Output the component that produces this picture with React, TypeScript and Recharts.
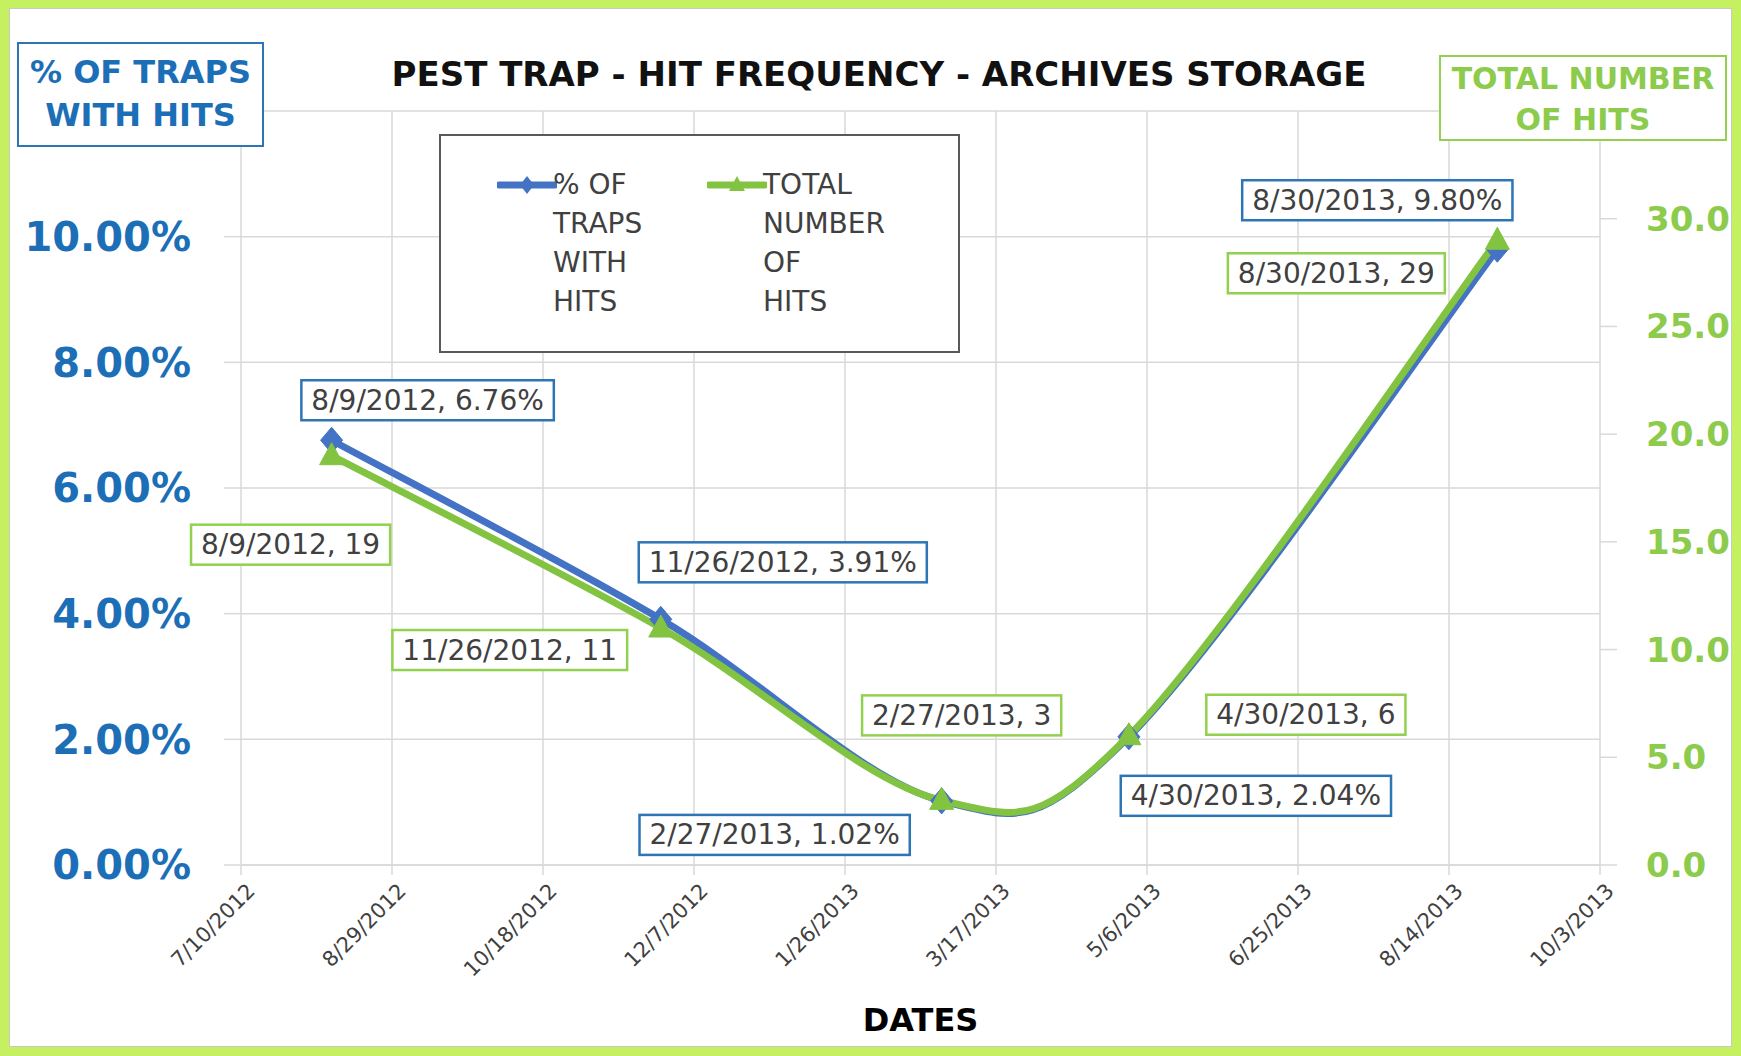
import React from 'react';
import { LineChart, Line, XAxis, YAxis, CartesianGrid, LabelList, Legend } from 'recharts';

// ---------- data ----------
const dates = ['8/9/2012', '11/26/2012', '2/27/2013', '4/30/2013', '8/30/2013'];
const pctTraps = [6.76, 3.91, 1.02, 2.04, 9.8];
const totalHits = [19, 11, 3, 6, 29];
const xTickLabels = ['7/10/2012', '8/29/2012', '10/18/2012', '12/7/2012', '1/26/2013', '3/17/2013', '5/6/2013', '6/25/2013', '8/14/2013', '10/3/2013'];
const leftTicks = [0, 2, 4, 6, 8, 10, 12];
const rightTicks = [0, 5, 10, 15, 20, 25, 30];

// label box offsets (center relative to the point), styling only
const blueLabelOffsets = [[96, -40], [122, -57], [-167, 34], [127, 59], [-120, -49]];
const greenLabelOffsets = [[-41, 89], [-151, 22], [20, -85], [177, -21], [-161, 33]];

const FONT = "'DejaVu Sans', sans-serif";
const BLUE = '#4472C4';
const GREEN = '#82C341';
const BLUE_TEXT = '#1C6FB7';
const GREEN_TEXT = '#8CCB4C';
const GRID = '#d9d9d9';
const LABEL_TEXT = '#404040';

const toDay = (s: string) => {
  const [m, d, y] = s.split('/').map(Number);
  return Date.UTC(y, m - 1, d) / 86400000;
};
const fromDay = (n: number) => {
  const dt = new Date(n * 86400000);
  return `${dt.getUTCMonth() + 1}/${dt.getUTCDate()}/${dt.getUTCFullYear()}`;
};

const data = dates.map((d, i) => ({ day: toDay(d), date: d, pct: pctTraps[i], hits: totalHits[i] }));
const xTicks = xTickLabels.map(toDay);

// Excel-like smooth line (Catmull-Rom through points)
const smoothCurve: any = (context: any) => {
  let pts: number[][] = [];
  return {
    areaStart() {},
    areaEnd() {},
    lineStart() { pts = []; },
    point(x: number, y: number) { pts.push([+x, +y]); },
    lineEnd() {
      if (!pts.length) return;
      context.moveTo(pts[0][0], pts[0][1]);
      for (let i = 0; i < pts.length - 1; i++) {
        const p0 = pts[i - 1] || pts[i];
        const p1 = pts[i];
        const p2 = pts[i + 1];
        const p3 = pts[i + 2] || p2;
        context.bezierCurveTo(
          p1[0] + (p2[0] - p0[0]) / 6, p1[1] + (p2[1] - p0[1]) / 6,
          p2[0] - (p3[0] - p1[0]) / 6, p2[1] - (p3[1] - p1[1]) / 6,
          p2[0], p2[1]
        );
      }
    },
  };
};

const charW: Record<string, number> = { '/': 0.337, ',': 0.318, ' ': 0.318, '.': 0.318, '%': 0.95 };
const textWidth = (s: string, fs: number) => s.split('').reduce((a, c) => a + (charW[c] ?? 0.636), 0) * fs;

const LABEL_FS = 28;
const makeLabel = (color: string, offsets: number[][], fmt: (i: number) => string) => (p: any) => {
  const i = p.index;
  const px = p.x ?? p.viewBox?.x;
  const py = p.y ?? p.viewBox?.y;
  if (px == null || py == null || i == null) return null;
  const txt = fmt(i);
  const w = textWidth(txt, LABEL_FS) + 20;
  const h = 40;
  const cx = px + offsets[i][0];
  const cy = py + offsets[i][1];
  return (
    <g key={`lbl-${color}-${i}`}>
      <rect x={cx - w / 2} y={cy - h / 2} width={w} height={h} fill="#fff" stroke={color} strokeWidth={2.5} />
      <text x={cx} y={cy} textAnchor="middle" dominantBaseline="central" fontFamily={FONT} fontSize={LABEL_FS} fill={LABEL_TEXT}>
        {txt}
      </text>
    </g>
  );
};

const Diamond = (p: any) => {
  const { cx, cy } = p;
  if (cx == null || cy == null) return null;
  return <polygon key={`d-${p.index}`} points={`${cx},${cy - 13} ${cx + 11},${cy} ${cx},${cy + 13} ${cx - 11},${cy}`} fill={BLUE} stroke={BLUE} strokeWidth={1} />;
};
const Triangle = (p: any) => {
  const { cx, cy } = p;
  if (cx == null || cy == null) return null;
  return <polygon key={`t-${p.index}`} points={`${cx},${cy - 13} ${cx + 12},${cy + 9} ${cx - 12},${cy + 9}`} fill={GREEN} stroke={GREEN} strokeWidth={1} />;
};

const XTick = (p: any) => {
  const { x, y, payload } = p;
  return (
    <g transform={`translate(${x + 10},${y + 10})`}>
      <text textAnchor="end" transform="rotate(-45)" fontFamily={FONT} fontSize={21} fill={LABEL_TEXT} dy="0.35em">
        {fromDay(payload.value)}
      </text>
    </g>
  );
};

const LegendBox = () => (
  <div style={{ width: 521, height: 219, boxSizing: 'border-box', border: '2.5px solid #595959', background: '#fff', position: 'relative', fontFamily: FONT, fontSize: 28, color: LABEL_TEXT, lineHeight: '39px' }}>
    <svg width={60} height={20} style={{ position: 'absolute', left: 56, top: 39 }}>
      <line x1={2} y1={10} x2={58} y2={10} stroke={BLUE} strokeWidth={7} strokeLinecap="round" />
      <polygon points="30,1 37,10 30,19 23,10" fill={BLUE} />
    </svg>
    <div style={{ position: 'absolute', left: 112, top: 29 }}>% OF<br />TRAPS<br />WITH<br />HITS</div>
    <svg width={60} height={20} style={{ position: 'absolute', left: 266, top: 39 }}>
      <line x1={2} y1={10} x2={58} y2={10} stroke={GREEN} strokeWidth={7} strokeLinecap="round" />
      <polygon points="30,1 38,16 22,16" fill={GREEN} />
    </svg>
    <div style={{ position: 'absolute', left: 322, top: 29 }}>TOTAL<br />NUMBER<br />OF<br />HITS</div>
  </div>
);

export default function App() {
  return (
    <div style={{ position: 'absolute', left: 0, top: 0, width: 1741, height: 1056, background: '#C5F060' }}>
      <div style={{ position: 'absolute', left: 9, top: 8, width: 1723, height: 1039, background: '#fff', boxShadow: 'inset 0 0 0 1px #c8c8c8' }}>
        <LineChart width={1723} height={1039} data={data} margin={{ top: 103, right: 0, bottom: 0, left: 0 }}>
          <CartesianGrid yAxisId="left" xAxisId={0} stroke={GRID} strokeWidth={1.5} />
          <XAxis
            dataKey="day"
            type="number"
            domain={[xTicks[0], xTicks[xTicks.length - 1]]}
            ticks={xTicks}
            tick={<XTick />}
            tickSize={10}
            tickLine={{ stroke: GRID, strokeWidth: 1.5 }}
            axisLine={{ stroke: GRID, strokeWidth: 1.5 }}
            height={182}
            interval={0}
            label={{ value: 'DATES', position: 'insideBottom', offset: 16, fill: '#000', fontSize: 32, fontWeight: 'bold', fontFamily: FONT }}
          />
          <YAxis
            yAxisId="left"
            domain={[0, 12]}
            ticks={leftTicks}
            interval={0}
            tickFormatter={(v: number) => (v === 12 ? '' : `${v.toFixed(2)}%`)}
            tick={{ fill: BLUE_TEXT, fontSize: 40, fontWeight: 'bold', fontFamily: FONT }}
            tickSize={17}
            tickMargin={33}
            tickLine={{ stroke: GRID, strokeWidth: 1.5 }}
            axisLine={false}
            width={232}
          />
          <YAxis
            yAxisId="right"
            orientation="right"
            domain={[0, 35]}
            ticks={rightTicks}
            interval={0}
            tickFormatter={(v: number) => v.toFixed(1)}
            tick={{ fill: GREEN_TEXT, fontSize: 34, fontWeight: 'bold', fontFamily: FONT }}
            tickSize={17}
            tickMargin={29}
            tickLine={{ stroke: GRID, strokeWidth: 1.5 }}
            axisLine={false}
            width={132}
          />
          <Legend
            layout="vertical"
            align="center"
            verticalAlign="middle"
            wrapperStyle={{ left: 430, top: 126, width: 521, height: 219 }}
            content={() => <LegendBox />}
          />
          <Line
            yAxisId="left"
            dataKey="pct"
            type={smoothCurve}
            stroke={BLUE}
            strokeWidth={7}
            dot={Diamond}
            activeDot={false}
            isAnimationActive={false}
          >
            <LabelList dataKey="pct" content={makeLabel('#2E75B6', blueLabelOffsets, (i) => `${dates[i]}, ${pctTraps[i].toFixed(2)}%`)} />
          </Line>
          <Line
            yAxisId="right"
            dataKey="hits"
            type={smoothCurve}
            stroke={GREEN}
            strokeWidth={7}
            dot={Triangle}
            activeDot={false}
            isAnimationActive={false}
          >
            <LabelList dataKey="hits" content={makeLabel('#92D050', greenLabelOffsets, (i) => `${dates[i]}, ${totalHits[i]}`)} />
          </Line>
        </LineChart>
        {/* chart title */}
        <div style={{ position: 'absolute', left: 0, width: 1740, top: 46, textAlign: 'center', fontFamily: FONT, fontWeight: 'bold', fontSize: 34, color: '#111', whiteSpace: 'nowrap' }}>
          PEST TRAP - HIT FREQUENCY - ARCHIVES STORAGE
        </div>
        {/* left axis title */}
        <div style={{ position: 'absolute', left: 8, top: 34, width: 247, height: 105, boxSizing: 'border-box', border: `2.5px solid #2E75B6`, background: '#fff', fontFamily: FONT, fontWeight: 'bold', fontSize: 32, color: BLUE_TEXT, textAlign: 'center', lineHeight: '43px', paddingTop: 7, whiteSpace: 'nowrap' }}>
          % OF TRAPS<br />WITH HITS
        </div>
        {/* right axis title */}
        <div style={{ position: 'absolute', left: 1430, top: 47, width: 288, height: 86, boxSizing: 'border-box', border: `2.5px solid #92D050`, background: '#fff', fontFamily: FONT, fontWeight: 'bold', fontSize: 30, color: GREEN_TEXT, textAlign: 'center', lineHeight: '41px', paddingTop: 1, whiteSpace: 'nowrap' }}>
          TOTAL NUMBER<br />OF HITS
        </div>
      </div>
    </div>
  );
}
